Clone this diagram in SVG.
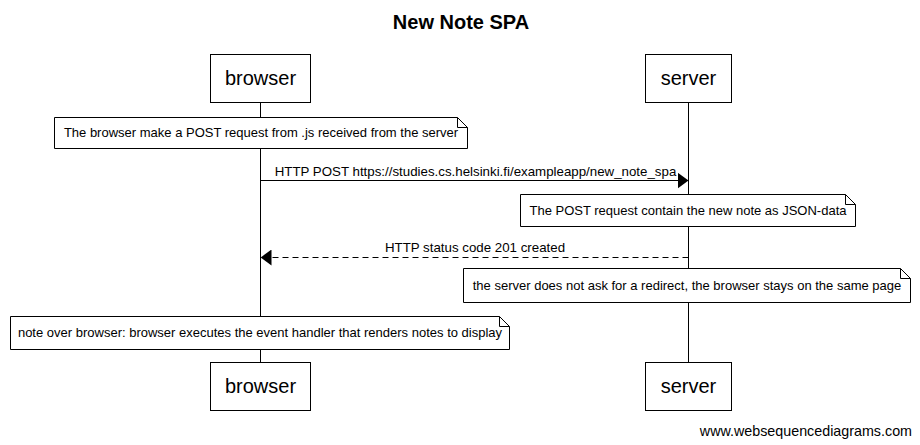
<svg xmlns="http://www.w3.org/2000/svg" width="920" height="445" viewBox="0 0 920 445">
<style>
.box{fill:#fff;stroke:#000;stroke-width:1}
.life{stroke:#000;stroke-width:1}
.note{fill:#fff;stroke:#000;stroke-width:1}
.fold{fill:none;stroke:#000;stroke-width:1}
.t{font-family:"Liberation Sans",Arial,sans-serif;fill:#000}
.pt{font-size:20px}
.nt{font-size:13px}
.mt{font-size:13.3px}
.msg{stroke:#000;stroke-width:1;fill:none}
</style>
<defs>
<marker id="ah" markerWidth="11" markerHeight="16" refX="11" refY="8" orient="auto" markerUnits="userSpaceOnUse">
<path d="M0,0 L11,8 L0,16 Z" fill="#000"/>
</marker>
</defs>
<rect width="920" height="445" fill="#fff"/>
<text class="t" x="461" y="29" font-size="20" font-weight="bold" text-anchor="middle">New Note SPA</text>
<g id="lifelines">
<line class="life" x1="260.5" y1="103" x2="260.5" y2="362"/>
<line class="life" x1="688.5" y1="103" x2="688.5" y2="362"/>
</g>
<g id="browser">
<rect class="box" x="210.5" y="54.5" width="100" height="48"/>
<text class="t pt" x="260.5" y="85" text-anchor="middle">browser</text>
</g>
<g id="server">
<rect class="box" x="645.5" y="54.5" width="86" height="48"/>
<text class="t pt" x="688.5" y="85" text-anchor="middle">server</text>
</g>
<g id="browser-bottom">
<rect class="box" x="210.5" y="362.5" width="100" height="48"/>
<text class="t pt" x="260.5" y="393" text-anchor="middle">browser</text>
</g>
<g id="server-bottom">
<rect class="box" x="645.5" y="362.5" width="86" height="48"/>
<text class="t pt" x="688.5" y="393" text-anchor="middle">server</text>
</g>
<g id="note1">
<path class="note" d="M54.5,117.5 H457.5 L467.5,127.5 V148.5 H54.5 Z"/>
<path class="fold" d="M457.5,117.5 V127.5 H467.5"/>
<text class="t nt" x="261" y="137" text-anchor="middle">The browser make a POST request from .js received from the server</text>
</g>
<g id="connectors">
<line class="msg" x1="260.5" y1="180.5" x2="688.5" y2="180.5" marker-end="url(#ah)"/>
<text class="t mt" x="475.5" y="176" text-anchor="middle">HTTP POST https://studies.cs.helsinki.fi/exampleapp/new_note_spa</text>
<line class="msg" x1="688.5" y1="257.5" x2="260.5" y2="257.5" stroke-dasharray="6,4" marker-end="url(#ah)"/>
<text class="t mt" x="475" y="252" text-anchor="middle">HTTP status code 201 created</text>
</g>
<g id="note2">
<path class="note" d="M520.5,194.5 H845.5 L855.5,204.5 V226.5 H520.5 Z"/>
<path class="fold" d="M845.5,194.5 V204.5 H855.5"/>
<text class="t nt" x="688" y="215" text-anchor="middle">The POST request contain the new note as JSON-data</text>
</g>
<g id="note3">
<path class="note" d="M463.5,268.5 H900.5 L910.5,278.5 V302.5 H463.5 Z"/>
<path class="fold" d="M900.5,268.5 V278.5 H910.5"/>
<text class="t nt" x="687" y="290" text-anchor="middle">the server does not ask for a redirect, the browser stays on the same page</text>
</g>
<g id="note4">
<path class="note" d="M10.5,316.5 H499.5 L509.5,326.5 V349.5 H10.5 Z"/>
<path class="fold" d="M499.5,316.5 V326.5 H509.5"/>
<text class="t nt" x="260" y="337" text-anchor="middle">note over browser: browser executes the event handler that renders notes to display</text>
</g>
<text class="t" x="912" y="436" font-size="14.3" text-anchor="end">www.websequencediagrams.com</text>
</svg>
